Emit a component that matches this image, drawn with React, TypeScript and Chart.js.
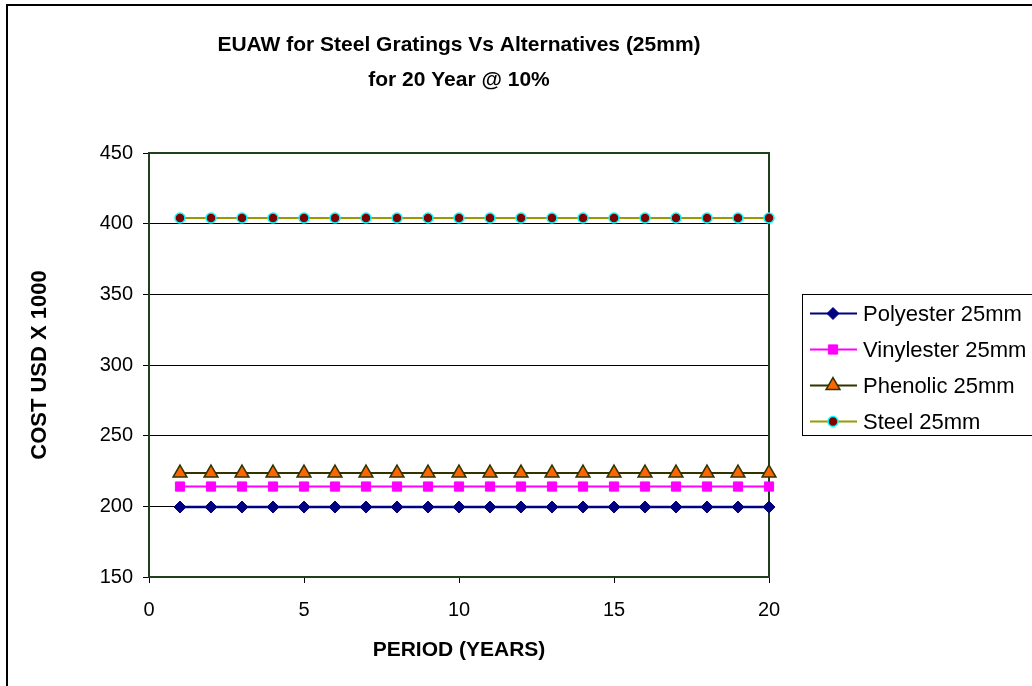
import React, { useEffect, useRef } from "react";
import { Chart, registerables } from "chart.js";
import { drawPoint } from "chart.js/helpers";

Chart.register(...registerables);

const periods = [1, 2, 3, 4, 5, 6, 7, 8, 9, 10, 11, 12, 13, 14, 15, 16, 17, 18, 19, 20];
const polyester = [199.5, 199.5, 199.5, 199.5, 199.5, 199.5, 199.5, 199.5, 199.5, 199.5, 199.5, 199.5, 199.5, 199.5, 199.5, 199.5, 199.5, 199.5, 199.5, 199.5];
const vinylester = [214, 214, 214, 214, 214, 214, 214, 214, 214, 214, 214, 214, 214, 214, 214, 214, 214, 214, 214, 214];
const phenolic = [223.5, 223.5, 223.5, 223.5, 223.5, 223.5, 223.5, 223.5, 223.5, 223.5, 223.5, 223.5, 223.5, 223.5, 223.5, 223.5, 223.5, 223.5, 223.5, 223.5];
const steel = [404, 404, 404, 404, 404, 404, 404, 404, 404, 404, 404, 404, 404, 404, 404, 404, 404, 404, 404, 404];
const seriesLabels = ["Polyester 25mm", "Vinylester 25mm", "Phenolic 25mm", "Steel 25mm"];
const titleLines = ["EUAW for Steel Gratings Vs Alternatives (25mm)", "for 20 Year @ 10%"];
const yTitle = "COST USD X 1000";
const xTitle = "PERIOD (YEARS)";

const FONT = "'Liberation Sans', Arial, sans-serif";

const toXY = (vals: number[]) => periods.map((p, i) => ({ x: p, y: vals[i] }));

const outerBorder = {
  id: "outerBorder",
  afterDraw(chart: any) {
    const ctx = chart.ctx;
    ctx.save();
    ctx.strokeStyle = "#000";
    ctx.lineWidth = 2;
    ctx.strokeRect(7, 5, 3000, 3000);
    ctx.restore();
  },
};

const plotBorder = {
  id: "plotBorder",
  beforeDatasetsDraw(chart: any) {
    const { ctx, chartArea } = chart;
    ctx.save();
    ctx.strokeStyle = "#1f3f1f";
    ctx.lineWidth = 2;
    ctx.strokeRect(chartArea.left, chartArea.top, chartArea.right - chartArea.left, chartArea.bottom - chartArea.top);
    ctx.restore();
  },
};

const boxLegend = {
  id: "boxLegend",
  afterDraw(chart: any) {
    const ctx = chart.ctx;
    ctx.save();
    ctx.strokeStyle = "#000";
    ctx.lineWidth = 1;
    ctx.strokeRect(802.5, 294.5, 400, 141);
    chart.data.datasets.forEach((ds: any, i: number) => {
      const y = 313.5 + i * 36;
      ctx.strokeStyle = ds.borderColor;
      ctx.lineWidth = Math.min(ds.borderWidth, 2);
      ctx.beginPath();
      ctx.moveTo(810, y);
      ctx.lineTo(857, y);
      ctx.stroke();
      ctx.fillStyle = ds.pointBackgroundColor;
      ctx.strokeStyle = ds.pointBorderColor;
      ctx.lineWidth = ds.pointBorderWidth;
      drawPoint(ctx, { pointStyle: ds.pointStyle, radius: ds.pointRadius, borderWidth: ds.pointBorderWidth, rotation: 0 }, 833, y);
      ctx.fillStyle = "#000";
      ctx.font = `22px ${FONT}`;
      ctx.textBaseline = "middle";
      ctx.textAlign = "left";
      ctx.fillText(ds.label, 863, y + 1);
    });
    ctx.restore();
  },
};

export default function App() {
  const ref = useRef<HTMLCanvasElement>(null);
  useEffect(() => {
    if (!ref.current) return;
    Chart.defaults.font.family = FONT;
    Chart.defaults.color = "#000";
    const chart = new Chart(ref.current, {
      type: "line",
      data: {
        datasets: [
          {
            label: seriesLabels[0],
            data: toXY(polyester),
            borderColor: "#000080",
            borderWidth: 2.5,
            pointStyle: "rectRot",
            pointRadius: 6,
            pointBackgroundColor: "#000080",
            pointBorderColor: "#000080",
            pointBorderWidth: 1,
            clip: false,
          },
          {
            label: seriesLabels[1],
            data: toXY(vinylester),
            borderColor: "#FF00FF",
            borderWidth: 2,
            pointStyle: "rect",
            pointRadius: 6.5,
            pointBackgroundColor: "#FF00FF",
            pointBorderColor: "#FF00FF",
            pointBorderWidth: 1,
            clip: false,
          },
          {
            label: seriesLabels[2],
            data: toXY(phenolic),
            borderColor: "#333300",
            borderWidth: 2,
            pointStyle: "triangle",
            pointRadius: 8,
            pointBackgroundColor: "#FF6600",
            pointBorderColor: "#333300",
            pointBorderWidth: 1.5,
            clip: false,
          },
          {
            label: seriesLabels[3],
            data: toXY(steel),
            borderColor: "#999900",
            borderWidth: 2,
            pointStyle: "circle",
            pointRadius: 5,
            pointBackgroundColor: "#800000",
            pointBorderColor: "#00FFFF",
            pointBorderWidth: 1.5,
            clip: false,
          },
        ] as any,
      },
      options: {
        responsive: false,
        animation: false,
        devicePixelRatio: 1,
        layout: { padding: { left: 0, right: 263, top: 0, bottom: 0 } },
        plugins: {
          legend: { display: false },
          tooltip: { enabled: false },
          title: {
            display: true,
            fullSize: false,
            text: titleLines,
            color: "#000",
            font: { family: FONT, size: 21, weight: "bold", lineHeight: 35 / 21 },
            padding: { top: 28, bottom: 55 },
          },
        },
        scales: {
          x: {
            type: "linear",
            min: 0,
            max: 20,
            afterFit: (s: any) => {
              s.height = 109;
            },
            ticks: { stepSize: 5, padding: 15, font: { size: 20, family: FONT }, color: "#000" },
            grid: { drawOnChartArea: false, drawTicks: true, tickLength: 6, color: "#000" },
            border: { display: false },
            title: {
              display: true,
              text: xTitle,
              color: "#000",
              font: { size: 21, weight: "bold", family: FONT },
              padding: { top: 0, bottom: 23 },
            },
          },
          y: {
            min: 150,
            max: 450,
            afterFit: (s: any) => {
              s.width = 149;
            },
            ticks: { stepSize: 50, padding: 10, font: { size: 20, family: FONT }, color: "#000" },
            grid: { color: "#000", lineWidth: 1, tickLength: 6, drawTicks: true },
            border: { display: false },
            title: {
              display: true,
              text: yTitle,
              color: "#000",
              font: { size: 22, weight: "bold", family: FONT },
              padding: { top: 27, bottom: 0 },
            },
          },
        },
      },
      plugins: [outerBorder, plotBorder, boxLegend],
    });
    return () => chart.destroy();
  }, []);
  return (
    <div style={{ position: "absolute", left: 0, top: 0, width: 1032, height: 686, background: "#fff" }}>
      <canvas ref={ref} width={1032} height={686} style={{ display: "block" }} />
    </div>
  );
}
